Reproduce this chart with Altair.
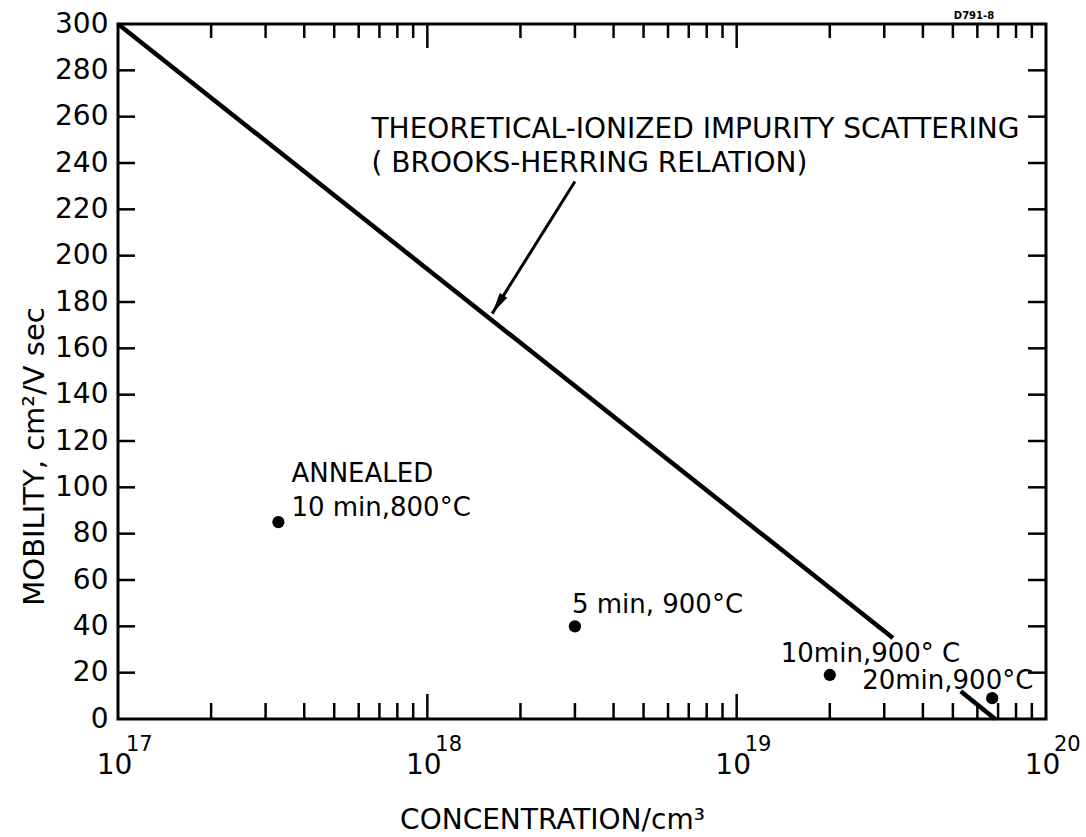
import altair as alt
import pandas as pd

# ---------------- data ----------------
line_conc = [1e17, 3.2e19, 5.3e19, 6.85e19]
line_mob = [300, 35, 12, 0]
line_seg = [0, 0, 1, 1]

pt_conc = [3.3e17, 3.0e18, 2.0e19, 6.7e19]
pt_mob = [85, 40, 19, 9]
pt_label = ["10 min,800°C", "5 min, 900°C", "10min,900° C", "20min,900°C"]
annealed_label = "ANNEALED"

anno_lines = ["THEORETICAL-IONIZED IMPURITY SCATTERING", "( BROOKS-HERRING RELATION)"]
anno_conc = [6.6e17, 6.6e17]
anno_mob = [251, 236]

arrow_conc = [3.0e18, 1.62e18]
arrow_mob = [232, 175]

x_major = [1e17, 1e18, 1e19, 1e20]
x_exps = ["17", "18", "19", "20"]
x_inner_major = [1e18, 1e19]
x_minor = [m * 10 ** k for k in (17, 18, 19) for m in range(2, 10)]
y_ticks = list(range(20, 300, 20))
y_labels = list(range(0, 301, 20))
fig_id = "D791-8"

# ---------------- styles ----------------
W, H = 928, 695
FONT = "DejaVu Sans"
label_dx = [13, -3, -49, -130]
label_dy = [-6, -13, -13, -9]

xs = alt.Scale(type="log", domain=[1e17, 1e20], nice=False)
ys = alt.Scale(domain=[0, 300], nice=False, zero=False)

df_line = pd.DataFrame({"c": line_conc, "m": line_mob, "s": line_seg})
df_pts = pd.DataFrame({"c": pt_conc, "m": pt_mob, "t": pt_label})
df_anno = pd.DataFrame({"c": anno_conc, "m": anno_mob, "t": anno_lines})
df_arrow = pd.DataFrame({"c": arrow_conc, "m": arrow_mob})
df_tip = df_arrow.iloc[[1]]
df_major = pd.DataFrame({"c": x_major, "e": x_exps})
df_minor = pd.DataFrame({"c": x_minor})
df_inner = pd.DataFrame({"c": x_inner_major})
df_yt = pd.DataFrame({"m": y_ticks})

base_x = alt.X("c:Q", scale=xs,
               axis=alt.Axis(values=x_major, labelExpr="'10'", ticks=False, domain=False,
                             grid=False, labelFontSize=28, labelFont=FONT, labelColor="black",
                             labelPadding=32, labelBaseline="top", labelFlush=False,
                             labelOffset=-4, labelOverlap=False,
                             title="CONCENTRATION/cm³", titleFont=FONT, titleFontSize=28,
                             titleFontWeight="normal", titleColor="black",
                             titleX=434, titleY=109, titleAlign="center",
                             titleBaseline="alphabetic", titleAnchor="start"))
base_y = alt.Y("m:Q", scale=ys,
               axis=alt.Axis(values=y_labels, ticks=False, domain=False, grid=False,
                             labelFontSize=28, labelFont=FONT, labelColor="black",
                             labelPadding=10,
                             title="MOBILITY, cm²/V sec", titleFont=FONT, titleFontSize=29,
                             titleFontWeight="normal", titleColor="black",
                             titleX=-75, titleY=432, titleAngle=270, titleAlign="center",
                             titleBaseline="alphabetic", titleAnchor="start"))

main_line = alt.Chart(df_line).mark_line(color="black", strokeWidth=4.5).encode(
    x=base_x, y=base_y, detail="s:N")

points = alt.Chart(df_pts).mark_circle(color="black", opacity=1, size=150).encode(
    x=alt.X("c:Q", scale=xs), y=alt.Y("m:Q", scale=ys))

label_layers = []
for i in range(len(pt_label)):
    label_layers.append(
        alt.Chart(df_pts.iloc[[i]]).mark_text(
            align="left", baseline="alphabetic", dx=label_dx[i], dy=label_dy[i],
            fontSize=26, font=FONT, color="black").encode(
            x=alt.X("c:Q", scale=xs), y=alt.Y("m:Q", scale=ys), text="t:N"))

annealed = alt.Chart(df_pts.iloc[[0]]).mark_text(
    align="left", baseline="alphabetic", dx=13, dy=-40, fontSize=26, font=FONT,
    color="black").encode(x=alt.X("c:Q", scale=xs), y=alt.Y("m:Q", scale=ys),
                          text=alt.value(annealed_label))

anno = alt.Chart(df_anno).mark_text(
    align="left", baseline="alphabetic", fontSize=28, font=FONT, color="black").encode(
    x=alt.X("c:Q", scale=xs), y=alt.Y("m:Q", scale=ys), text="t:N")

arrow_line = alt.Chart(df_arrow).mark_line(color="black", strokeWidth=3).encode(
    x=alt.X("c:Q", scale=xs), y=alt.Y("m:Q", scale=ys))

arrow_head = alt.Chart(df_tip).mark_point(
    shape="M0,0L-0.45,2.2L0.45,2.2Z", filled=True, color="black", opacity=1,
    size=380, angle=212).encode(x=alt.X("c:Q", scale=xs), y=alt.Y("m:Q", scale=ys))

exps = alt.Chart(df_major).mark_text(
    align="left", baseline="alphabetic", dx=8, fontSize=21, font=FONT, color="black").encode(
    x=alt.X("c:Q", scale=xs), y=alt.value(727), text="e:N")

tick_style = dict(color="black", strokeWidth=2.5)
bot_minor = alt.Chart(df_minor).mark_rule(**tick_style).encode(
    x=alt.X("c:Q", scale=xs), y=alt.value(H), y2=alt.value(H - 16))
top_minor = alt.Chart(df_minor).mark_rule(**tick_style).encode(
    x=alt.X("c:Q", scale=xs), y=alt.value(0), y2=alt.value(14))
bot_major = alt.Chart(df_inner).mark_rule(**tick_style).encode(
    x=alt.X("c:Q", scale=xs), y=alt.value(H), y2=alt.value(H - 25))
top_major = alt.Chart(df_inner).mark_rule(**tick_style).encode(
    x=alt.X("c:Q", scale=xs), y=alt.value(0), y2=alt.value(24))
left_t = alt.Chart(df_yt).mark_rule(**tick_style).encode(
    y=alt.Y("m:Q", scale=ys), x=alt.value(0), x2=alt.value(17))
right_t = alt.Chart(df_yt).mark_rule(**tick_style).encode(
    y=alt.Y("m:Q", scale=ys), x=alt.value(W - 18), x2=alt.value(W))

figid = alt.Chart(pd.DataFrame({"t": [fig_id]})).mark_text(
    fontSize=10, font=FONT, fontWeight="bold", color="black").encode(
    x=alt.value(856), y=alt.value(-8), text="t:N")

chart = alt.layer(
    main_line, bot_minor, top_minor, bot_major, top_major, left_t, right_t,
    points, *label_layers, annealed, anno, arrow_line, arrow_head, exps, figid
).properties(
    width=W, height=H,
    autosize=alt.AutoSizeParams(type="none"),
    padding={"left": 118, "top": 24, "right": 40, "bottom": 118},
    background="white",
).configure_view(stroke="black", strokeWidth=3)

chart.save("out.html", embed_options={"renderer": "svg", "actions": False})
